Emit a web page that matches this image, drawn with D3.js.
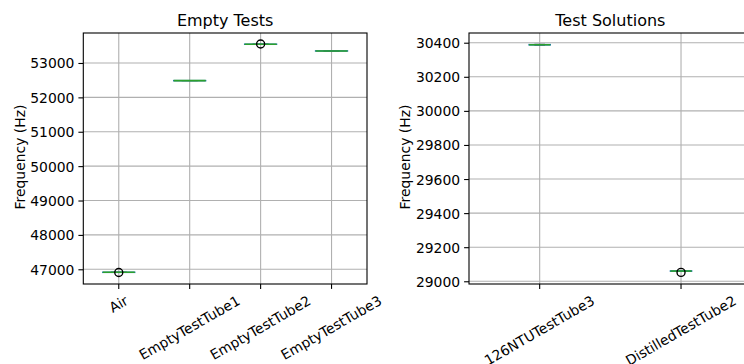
<!DOCTYPE html>
<html>
<head>
<meta charset="utf-8">
<script src="https://cdn.jsdelivr.net/npm/d3@7"></script>
<style>
  html, body { margin: 0; padding: 0; background: #fff; }
  svg { display: block; font-family: "DejaVu Sans", sans-serif; }
</style>
</head>
<body>
<svg id="fig" width="744" height="364"></svg>
<script>
// ---- Empty tests panel ----
const emptyCategories = ["Air", "EmptyTestTube1", "EmptyTestTube2", "EmptyTestTube3"];
const emptyLow     = [46906, 52482, 53541, 53346];
const emptyQ1      = [46910, 52484, 53543, 53348];
const emptyMedian  = [46912, 52486, 53545, 53350];
const emptyQ3      = [46914, 52488, 53547, 53352];
const emptyHigh    = [46918, 52490, 53549, 53354];
const emptyFliers  = [[46905], [], [53552], []];
const emptyTicks   = [47000, 48000, 49000, 50000, 51000, 52000, 53000];

// ---- Test solutions panel ----
const solCategories = ["126NTUTestTube3", "DistilledTestTube2"];
const solLow     = [30386, 29058];
const solQ1      = [30387, 29059];
const solMedian  = [30388, 29060];
const solQ3      = [30389, 29061];
const solHigh    = [30390, 29062];
const solFliers  = [[], [29052]];
const solTicks   = [29000, 29200, 29400, 29600, 29800, 30000, 30200, 30400];

const svg = d3.select("#fig");
svg.append("rect").attr("width", 744).attr("height", 364).attr("fill", "#fff");

const TICK_FONT = 13.9, TITLE_FONT = 16;
const BLUE = "#1f77b4", GREEN = "#2ca02c";

function panel(opts) {
  const { left, right, top, bottom, domainY, cats, low, q1, med, q3, high, fliers, ticks, title, ylabelX } = opts;
  const g = svg.append("g");
  const clipId = "clip" + Math.round(left);
  svg.append("clipPath").attr("id", clipId)
    .append("rect").attr("x", left).attr("y", top).attr("width", right - left).attr("height", bottom - top);

  const y = d3.scaleLinear().domain(domainY).range([bottom, top]);
  const x = d3.scaleLinear().domain([0.5, cats.length + 0.5]).range([left, right]);
  // box width follows the usual rule: min(0.5, 0.15 * span of positions)
  const bw = Math.min(0.5, 0.15 * Math.max(cats.length - 1, 1));
  const boxPx = x(1 + bw) - x(1);

  // grid
  const grid = g.append("g").attr("clip-path", `url(#${clipId})`);
  grid.selectAll("line.gy").data(ticks).join("line")
    .attr("x1", left).attr("x2", right)
    .attr("y1", d => y(d)).attr("y2", d => y(d))
    .attr("stroke", "#b0b0b0").attr("stroke-width", 1.1);
  grid.selectAll("line.gx").data(cats).join("line")
    .attr("x1", (d, i) => x(i + 1)).attr("x2", (d, i) => x(i + 1))
    .attr("y1", top).attr("y2", bottom)
    .attr("stroke", "#b0b0b0").attr("stroke-width", 1.1);

  // boxes
  const data = cats.map((c, i) => ({ c, i, lo: low[i], q1: q1[i], md: med[i], q3: q3[i], hi: high[i], fl: fliers[i] }));
  const marks = g.append("g").attr("clip-path", `url(#${clipId})`);
  data.forEach(d => {
    const cx = x(d.i + 1);
    const mk = marks.append("g");
    // whiskers
    mk.append("line").attr("x1", cx).attr("x2", cx).attr("y1", y(d.lo)).attr("y2", y(d.q1))
      .attr("stroke", BLUE).attr("stroke-width", 1.4);
    mk.append("line").attr("x1", cx).attr("x2", cx).attr("y1", y(d.q3)).attr("y2", y(d.hi))
      .attr("stroke", BLUE).attr("stroke-width", 1.4);
    // caps
    [d.lo, d.hi].forEach(v => {
      mk.append("line").attr("x1", cx - boxPx / 4).attr("x2", cx + boxPx / 4)
        .attr("y1", y(v)).attr("y2", y(v)).attr("stroke", "#555").attr("stroke-width", 1.1);
    });
    // box
    mk.append("rect").attr("x", cx - boxPx / 2).attr("width", boxPx)
      .attr("y", y(d.q3)).attr("height", Math.max(0.01, y(d.q1) - y(d.q3)))
      .attr("fill", "none").attr("stroke", BLUE).attr("stroke-width", 1.4);
    // median
    mk.append("line").attr("x1", cx - boxPx / 2).attr("x2", cx + boxPx / 2)
      .attr("y1", y(d.md)).attr("y2", y(d.md)).attr("stroke", GREEN).attr("stroke-width", 1.6);
    // fliers
    mk.selectAll("circle").data(d.fl).join("circle")
      .attr("cx", cx).attr("cy", v => y(v)).attr("r", 4)
      .attr("fill", "none").attr("stroke", "#000").attr("stroke-width", 1.4);
  });

  // spines
  g.append("rect").attr("x", left).attr("y", top).attr("width", right - left).attr("height", bottom - top)
    .attr("fill", "none").attr("stroke", "#000").attr("stroke-width", 1.1);

  // y axis
  const yAxis = g.append("g").attr("transform", `translate(${left},0)`)
    .call(d3.axisLeft(y).tickValues(ticks).tickFormat(d3.format("d")).tickSize(4.9).tickPadding(4));
  yAxis.select(".domain").remove();
  yAxis.selectAll(".tick line").attr("stroke", "#000").attr("stroke-width", 1.1);
  yAxis.selectAll(".tick text").attr("font-size", TICK_FONT).attr("font-family", "DejaVu Sans")
    .attr("fill", "#000").attr("dy", "0.36em");

  // x axis ticks with labels rotated 30 degrees, centred under each tick
  const xt = g.append("g");
  data.forEach(d => {
    const cx = x(d.i + 1);
    xt.append("line").attr("x1", cx).attr("x2", cx).attr("y1", bottom).attr("y2", bottom + 4.9)
      .attr("stroke", "#000").attr("stroke-width", 1.1);
    const t = xt.append("text").text(d.c)
      .attr("font-size", TICK_FONT).attr("font-family", "DejaVu Sans").attr("fill", "#000")
      .attr("text-anchor", "middle").attr("dy", "0.32em");
    const w = t.node().getComputedTextLength();
    const h = TICK_FONT * 1.0;
    const cy = bottom + 9.7 + (w / 2) * Math.sin(Math.PI / 6) + (h / 2) * Math.cos(Math.PI / 6);
    t.attr("transform", `translate(${cx},${cy}) rotate(-30)`);
  });

  // title
  g.append("text").text(title)
    .attr("x", (left + right) / 2).attr("y", top - 7)
    .attr("text-anchor", "middle").attr("font-size", TITLE_FONT).attr("fill", "#000");

  // y label
  g.append("text").text("Frequency (Hz)")
    .attr("transform", `translate(${ylabelX},${(top + bottom) / 2 - 1.5}) rotate(-90)`)
    .attr("text-anchor", "middle").attr("font-size", TICK_FONT).attr("fill", "#000");
}

panel({
  left: 83.3, right: 367, top: 33, bottom: 284,
  domainY: [46572, 53872],
  cats: emptyCategories, low: emptyLow, q1: emptyQ1, med: emptyMedian, q3: emptyQ3, high: emptyHigh,
  fliers: emptyFliers, ticks: emptyTicks, title: "Empty Tests", ylabelX: 24.5
});

panel({
  left: 469, right: 751.7, top: 33, bottom: 284,
  domainY: [28984, 30457],
  cats: solCategories, low: solLow, q1: solQ1, med: solMedian, q3: solQ3, high: solHigh,
  fliers: solFliers, ticks: solTicks, title: "Test Solutions", ylabelX: 410
});
</script>
</body>
</html>
